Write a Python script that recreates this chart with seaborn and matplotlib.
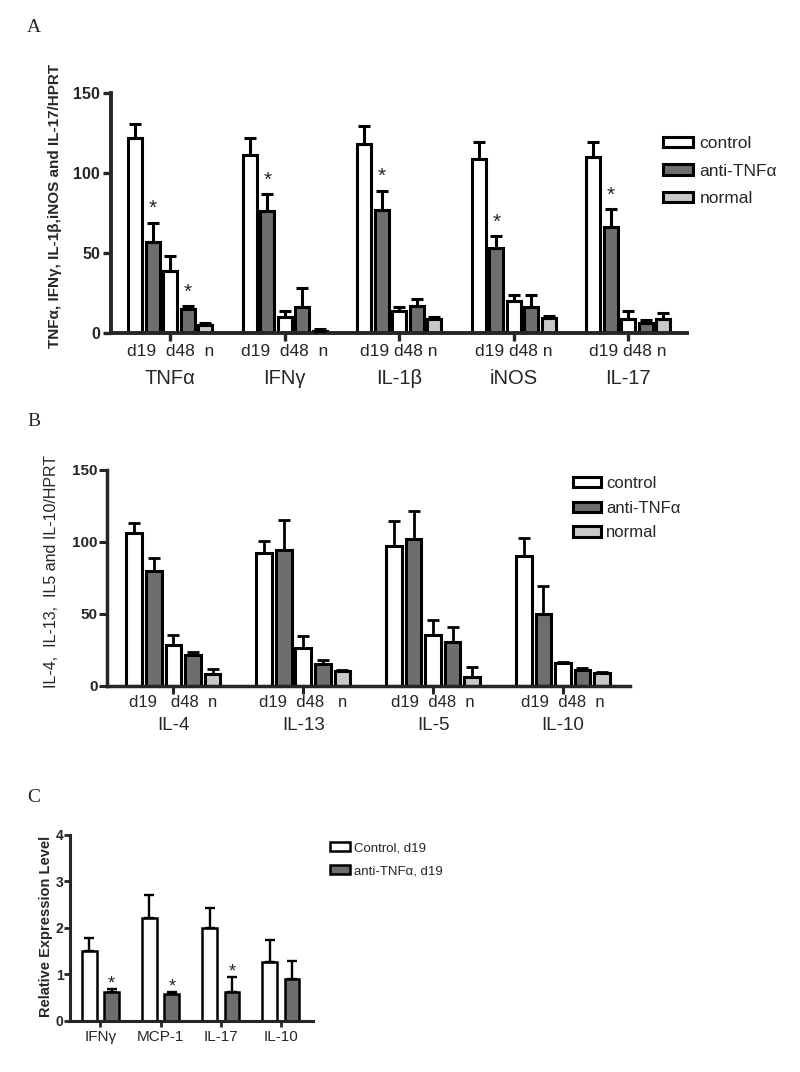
import numpy as np
import pandas as pd
import matplotlib
matplotlib.use('Agg')
import matplotlib.pyplot as plt
import seaborn as sns
from matplotlib.patches import Patch

# ---- Panel A: inflammatory cytokines / HPRT ----
a_genes = ['TNFα', 'IFNγ', 'IL-1β', 'iNOS', 'IL-17']
a_ticklabels = ['d19  d48  n', 'd19  d48  n', 'd19 d48 n', 'd19 d48 n', 'd19 d48 n']
a_ctrl_d19 = [122, 111, 118, 109, 110]
a_anti_d19 = [57, 76, 77, 53, 66]
a_ctrl_d48 = [39, 10, 14, 20, 9]
a_anti_d48 = [15, 16, 17, 16, 6]
a_normal = [5, 1.5, 9, 9.5, 9]
a_err_ctrl_d19 = [8.5, 11, 11.5, 10.5, 9.5]
a_err_anti_d19 = [12, 11, 12, 7.5, 11.5]
a_err_ctrl_d48 = [9, 3.5, 2, 3.5, 4.5]
a_err_anti_d48 = [2, 12, 4.5, 7.5, 2]
a_err_normal = [1.5, 1, 1, 1, 3.5]
a_stars = [('TNFα', 'anti_d19'), ('TNFα', 'anti_d48'), ('IFNγ', 'anti_d19'),
           ('IL-1β', 'anti_d19'), ('iNOS', 'anti_d19'), ('IL-17', 'anti_d19')]

# ---- Panel B: Th2 / regulatory cytokines / HPRT ----
b_genes = ['IL-4', 'IL-13', 'IL-5', 'IL-10']
b_ticklabels = ['d19   d48  n', 'd19  d48   n', 'd19  d48  n', 'd19  d48  n']
b_ctrl_d19 = [106, 92, 97, 90]
b_anti_d19 = [80, 94, 102, 50]
b_ctrl_d48 = [28, 26, 35.5, 15.7]
b_anti_d48 = [21, 15, 30, 10.5]
b_normal = [8, 10, 6, 8.6]
b_err_ctrl_d19 = [7, 8.5, 17.5, 13]
b_err_anti_d19 = [9, 21, 19.5, 19]
b_err_ctrl_d48 = [7.5, 8.5, 10, 1]
b_err_anti_d48 = [2.5, 3, 11, 1.5]
b_err_normal = [3.5, 0.5, 7, 0.6]

# ---- Panel C: relative expression, day 19 ----
c_genes = ['IFNγ', 'MCP-1', 'IL-17', 'IL-10']
c_control = [1.5, 2.21, 2.01, 1.26]
c_anti = [0.63, 0.59, 0.63, 0.90]
c_err_control = [0.29, 0.50, 0.43, 0.48]
c_err_anti = [0.05, 0.03, 0.32, 0.40]
c_stars = [('IFNγ', 'anti_c'), ('MCP-1', 'anti_c'), ('IL-17', 'anti_c')]

colors = {'ctrl_d19': 'white', 'anti_d19': '#6e6e6e', 'ctrl_d48': 'white',
          'anti_d48': '#6e6e6e', 'normal': '#c8c8c8',
          'ctrl_c': 'white', 'anti_c': '#6e6e6e'}

sns.set_style('ticks')
plt.rcParams['font.family'] = ['Liberation Sans', 'DejaVu Sans']


def long_df(genes, series):
    rows = []
    for cond, vals in series.items():
        for g, v in zip(genes, vals):
            rows.append({'gene': g, 'cond': cond, 'value': v})
    return pd.DataFrame(rows)


def bar_panel(ax, genes, series, errors, stars, width, gap, lw, elw, cap,
              star_size, star_off):
    df = long_df(genes, series)
    sns.barplot(data=df, x='gene', y='value', hue='cond', order=genes,
                hue_order=list(series), palette=colors, saturation=1,
                edgecolor='black', linewidth=lw, width=width, gap=gap,
                errorbar=None, legend=False, ax=ax)
    for cond, cont in zip(series, ax.containers):
        xs = [b.get_x() + b.get_width() / 2 for b in cont]
        vals = np.array(series[cond], dtype=float)
        err = np.array(errors[cond], dtype=float)
        ax.errorbar(xs, vals, yerr=[np.zeros_like(err), err], fmt='none',
                    ecolor='black', elinewidth=elw, capsize=cap, capthick=elw,
                    zorder=3)
        for x, g, top in zip(xs, genes, vals + err):
            if (g, cond) in stars:
                ax.annotate('*', (x, top), xytext=(0, star_off),
                            textcoords='offset points', ha='center',
                            va='baseline', fontsize=star_size)
    ax.set_xlabel('')
    ax.set_ylabel('')
    sns.despine(ax=ax)


fig = plt.figure(figsize=(8, 10.72), dpi=100)

# ---------- A ----------
axA = fig.add_axes([0.139, 0.6894, 0.72, 0.2239])
bar_panel(axA, a_genes,
          {'ctrl_d19': a_ctrl_d19, 'anti_d19': a_anti_d19, 'ctrl_d48': a_ctrl_d48,
           'anti_d48': a_anti_d48, 'normal': a_normal},
          {'ctrl_d19': a_err_ctrl_d19, 'anti_d19': a_err_anti_d19,
           'ctrl_d48': a_err_ctrl_d48, 'anti_d48': a_err_anti_d48,
           'normal': a_err_normal},
          a_stars, width=0.764, gap=0.2, lw=2.2, elw=2.2, cap=4,
          star_size=15, star_off=6)
axA.set_xlim(-0.515, 4.515)
axA.set_ylim(0, 150)
axA.set_yticks([0, 50, 100, 150])
axA.set_yticklabels(['0', '50', '100', '150'], fontweight='bold', fontsize=11.5)
axA.set_xticks(range(len(a_genes)))
axA.set_xticklabels(a_ticklabels, fontsize=12.5)
axA.tick_params(axis='both', length=6, width=2.4, pad=2)
for s in ['left', 'bottom']:
    axA.spines[s].set_linewidth(2.8)
for i, g in enumerate(a_genes):
    axA.text(i, -0.19, g, transform=axA.get_xaxis_transform(), ha='center',
             va='center', fontsize=14.5)
axA.legend(handles=[Patch(facecolor='white', edgecolor='black', linewidth=2.2, label='control'),
                    Patch(facecolor='#6e6e6e', edgecolor='black', linewidth=2.2, label='anti-TNFα'),
                    Patch(facecolor='#c8c8c8', edgecolor='black', linewidth=2.2, label='normal')],
           loc='upper left', bbox_to_anchor=(663 / 800, 1 - 136 / 1072),
           bbox_transform=fig.transFigure, frameon=False, borderpad=0,
           borderaxespad=0, handlelength=1.75, handleheight=0.55,
           handletextpad=0.35, labelspacing=0.73, fontsize=12.5)
fig.text(55 / 800, 1 - 206 / 1072, 'TNFα, IFNγ, IL-1β,iNOS and IL-17/HPRT',
         rotation=90, ha='center', va='center', fontsize=11, fontweight='bold')
fig.text(34 / 800, 1 - 27 / 1072, 'A', family='Liberation Serif', fontsize=14,
         ha='center', va='center')

# ---------- B ----------
axB = fig.add_axes([0.134, 0.3605, 0.654, 0.2011])
bar_panel(axB, b_genes,
          {'ctrl_d19': b_ctrl_d19, 'anti_d19': b_anti_d19, 'ctrl_d48': b_ctrl_d48,
           'anti_d48': b_anti_d48, 'normal': b_normal},
          {'ctrl_d19': b_err_ctrl_d19, 'anti_d19': b_err_anti_d19,
           'ctrl_d48': b_err_ctrl_d48, 'anti_d48': b_err_anti_d48,
           'normal': b_err_normal},
          [], width=0.753, gap=0.2, lw=2.2, elw=2.0, cap=4,
          star_size=15, star_off=3)
axB.set_xlim(-0.51, 3.52)
axB.set_ylim(0, 150)
axB.set_yticks([0, 50, 100, 150])
axB.set_yticklabels(['0', '50', '100', '150'], fontweight='bold', fontsize=11)
axB.set_xticks(range(len(b_genes)))
axB.set_xticklabels(b_ticklabels, fontsize=12)
axB.tick_params(axis='both', length=6, width=2.2, pad=1)
for s in ['left', 'bottom']:
    axB.spines[s].set_linewidth(2.5)
for i, g in enumerate(b_genes):
    axB.text(i, -0.186, g, transform=axB.get_xaxis_transform(), ha='center',
             va='center', fontsize=13.5)
axB.legend(handles=[Patch(facecolor='white', edgecolor='black', linewidth=2.2, label='control'),
                    Patch(facecolor='#6e6e6e', edgecolor='black', linewidth=2.2, label='anti-TNFα'),
                    Patch(facecolor='#c8c8c8', edgecolor='black', linewidth=2.2, label='normal')],
           loc='upper left', bbox_to_anchor=(573 / 800, 1 - 476 / 1072),
           bbox_transform=fig.transFigure, frameon=False, borderpad=0,
           borderaxespad=0, handlelength=1.65, handleheight=0.57,
           handletextpad=0.35, labelspacing=0.58, fontsize=12)
fig.text(52 / 800, 1 - 572 / 1072, 'IL-4,  IL-13,  IL5 and IL-10/HPRT',
         rotation=90, ha='center', va='center', fontsize=11.5)
fig.text(34 / 800, 1 - 422 / 1072, 'B', family='Liberation Serif', fontsize=14,
         ha='center', va='center')

# ---------- C ----------
axC = fig.add_axes([0.088, 0.0476, 0.303, 0.1735])
bar_panel(axC, c_genes,
          {'ctrl_c': c_control, 'anti_c': c_anti},
          {'ctrl_c': c_err_control, 'anti_c': c_err_anti},
          c_stars, width=0.74, gap=0.34, lw=1.8, elw=1.7, cap=3.5,
          star_size=13, star_off=0.5)
axC.set_xlim(-0.5, 3.53)
axC.set_ylim(0, 4)
axC.set_yticks([0, 1, 2, 3, 4])
axC.set_yticklabels(['0', '1', '2', '3', '4'], fontweight='bold', fontsize=10)
axC.set_xticks(range(len(c_genes)))
axC.set_xticklabels(c_genes, fontsize=11)
axC.tick_params(axis='both', length=4.5, width=2, pad=2)
axC.tick_params(axis='y', pad=0.5)
for s in ['left', 'bottom']:
    axC.spines[s].set_linewidth(2.2)
axC.legend(handles=[Patch(facecolor='white', edgecolor='black', linewidth=1.8, label='Control, d19'),
                    Patch(facecolor='#6e6e6e', edgecolor='black', linewidth=1.8, label='anti-TNFα, d19')],
           loc='upper left', bbox_to_anchor=(330 / 800, 1 - 842 / 1072),
           bbox_transform=fig.transFigure, frameon=False, borderpad=0,
           borderaxespad=0, handlelength=1.5, handleheight=0.68,
           handletextpad=0.3, labelspacing=0.83, fontsize=9.5)
fig.text(46 / 800, 1 - 926 / 1072, 'Relative Expression Level',
         rotation=90, ha='center', va='center', fontsize=10.5, fontweight='bold')
fig.text(34 / 800, 1 - 797 / 1072, 'C', family='Liberation Serif', fontsize=14,
         ha='center', va='center')

fig.savefig('out.png', dpi=100)
